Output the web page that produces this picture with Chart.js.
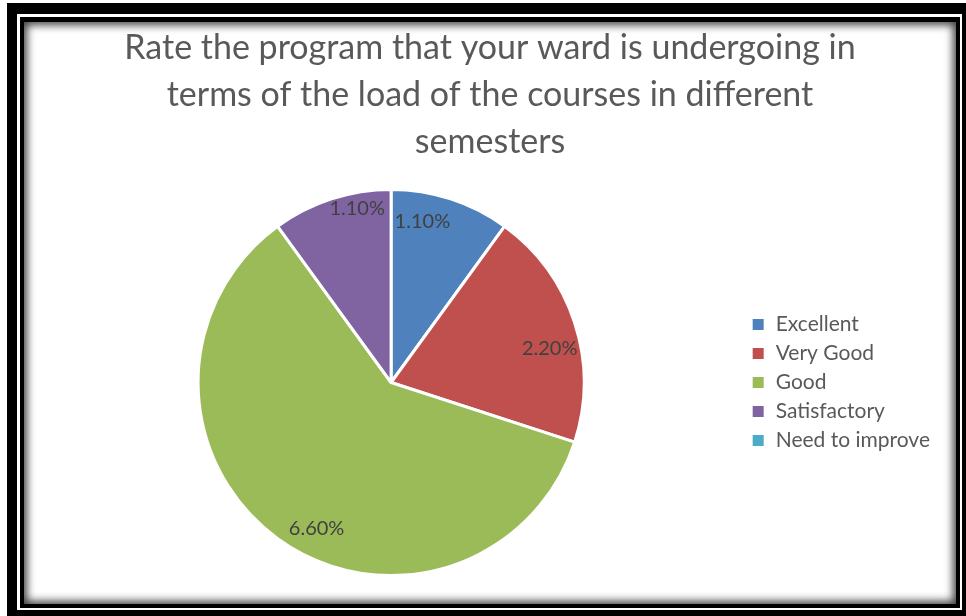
<!DOCTYPE html>
<html>
<head>
<meta charset="utf-8">
<script src="https://cdn.jsdelivr.net/npm/chart.js@4.4.1/dist/chart.umd.min.js"></script>
<style>
  html, body { margin: 0; padding: 0; background: #ffffff; width: 966px; height: 616px; overflow: hidden; }
  #outer { position: absolute; left: 7px; top: 3px; width: 959px; height: 613px; background: #000; }
  #line { position: absolute; left: 17px; top: 14px; width: 945px; height: 596px; box-sizing: border-box; border: 3px solid #fff; }
  #inner { position: absolute; left: 20px; top: 17px; width: 940px; height: 591px; background: #000; }
  #panel { position: absolute; left: 24px; top: 22px; width: 932px; height: 582px; background: #fff;
           box-shadow: inset 0 0 9px 3px rgba(0,0,0,0.75); }
  #c { position: absolute; left: 24px; top: 22px; }
</style>
</head>
<body>
<div id="outer"></div>
<div id="line"></div>
<div id="inner"></div>
<div id="panel"></div>
<canvas id="c" width="932" height="582"></canvas>
<script>
const titleLines = [
  'Rate the program that your ward is undergoing in',
  'terms of the load of the courses in different',
  'semesters'
];
const categories = ['Excellent', 'Very Good', 'Good', 'Satisfactory', 'Need to improve'];
const values = [1.1, 2.2, 6.6, 1.1, 0];
const colors = ['#4F81BD', '#C0504D', '#9BBB59', '#8064A2', '#4BACC6'];

// label placement styling (Excel "best fit"-like nudges)
const labelAngleNudge = [-7, 6, -9, 7];   // degrees
const labelRadiusFrac = [0.85, 0.84, 0.85, 0.92];

const titlePlugin = {
  id: 'titleLines',
  afterDraw(chart) {
    const ctx = chart.ctx;
    ctx.save();
    ctx.font = '34px Lato';
    ctx.fillStyle = '#595959';
    ctx.textAlign = 'center';
    ctx.textBaseline = 'middle';
    const cx = chart.width / 2;
    titleLines.forEach((t, i) => ctx.fillText(t, cx, 26 + i * 47));
    ctx.restore();
  }
};

const labelPlugin = {
  id: 'sliceLabels',
  afterDatasetsDraw(chart) {
    const ctx = chart.ctx;
    const meta = chart.getDatasetMeta(0);
    ctx.save();
    ctx.font = '20px Lato';
    ctx.fillStyle = '#404040';
    ctx.textAlign = 'center';
    ctx.textBaseline = 'middle';
    meta.data.forEach((arc, i) => {
      const v = values[i];
      if (!v) return;
      const p = arc.getProps(['x', 'y', 'startAngle', 'endAngle', 'outerRadius'], true);
      const mid = (p.startAngle + p.endAngle) / 2 + (labelAngleNudge[i] || 0) * Math.PI / 180;
      const r = p.outerRadius * (labelRadiusFrac[i] || 0.85);
      ctx.fillText(v.toFixed(2) + '%', p.x + Math.cos(mid) * r, p.y + Math.sin(mid) * r);
    });
    ctx.restore();
  }
};

new Chart(document.getElementById('c'), {
  type: 'pie',
  data: {
    labels: categories,
    datasets: [{
      data: values,
      backgroundColor: colors,
      borderColor: '#ffffff',
      borderWidth: 3
    }]
  },
  options: {
    responsive: false,
    devicePixelRatio: 1,
    animation: false,
    layout: { padding: { top: 166, bottom: 27, left: 15, right: 16 } },
    plugins: {
      title: { display: false },
      tooltip: { enabled: false },
      legend: {
        position: 'right',
        labels: {
          font: { family: 'Lato', size: 21 },
          color: '#595959',
          boxWidth: 14,
          boxHeight: 14,
          padding: 8
        }
      }
    }
  },
  plugins: [titlePlugin, labelPlugin]
});
</script>
</body>
</html>
